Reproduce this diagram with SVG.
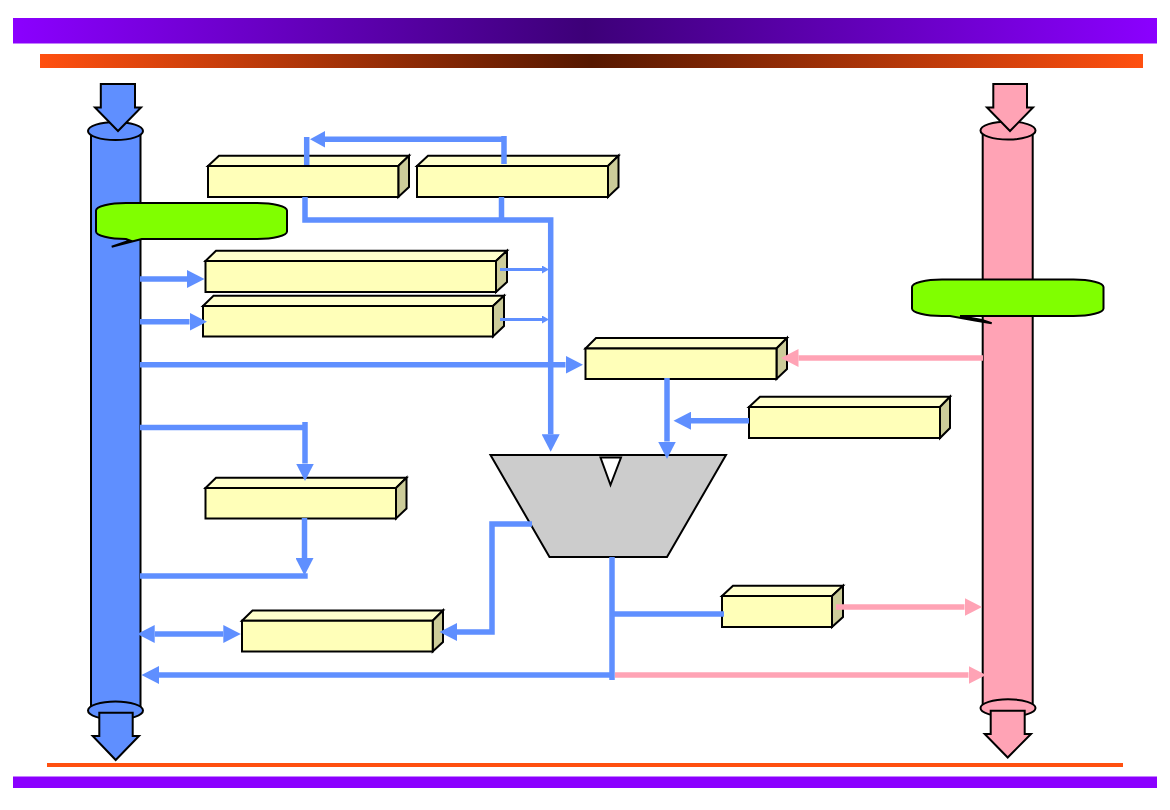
<svg xmlns="http://www.w3.org/2000/svg" width="1170" height="810" viewBox="0 0 1170 810">
<style>
.box path,.pipe path,.pipe ellipse,.blk{stroke:#000;stroke-width:2;stroke-linejoin:miter}
.f{fill:#ffffb9}.t{fill:#ffffcc}.s{fill:#cccc99}
.b{fill:#5f8fff}.p{fill:#ffa3b5}
.bl,.pl,.bt{fill:none;stroke-linejoin:miter}
.bl{stroke:#5f8fff;stroke-width:5.5}
.bt{stroke:#5f8fff;stroke-width:3}
.pl{stroke:#ffa3b5;stroke-width:5.5}
.ah{marker-end:url(#hb)}
.ap{marker-end:url(#hp)}
.call{fill:#80ff00;stroke:#000;stroke-width:2}
</style>
<defs>
<linearGradient id="gp"><stop offset="0" stop-color="#8b00ff"/><stop offset="0.5" stop-color="#3d0078"/><stop offset="1" stop-color="#8b00ff"/></linearGradient>
<linearGradient id="go"><stop offset="0" stop-color="#ff5010"/><stop offset="0.5" stop-color="#561800"/><stop offset="1" stop-color="#ff5010"/></linearGradient>
<marker id="hb" markerUnits="userSpaceOnUse" markerWidth="18" markerHeight="18" viewBox="0 0 18 18" refX="0" refY="9" orient="auto-start-reverse"><path d="M0 0L17.500 9L0 18Z" fill="#5f8fff"/></marker>
<marker id="hp" markerUnits="userSpaceOnUse" markerWidth="18" markerHeight="18" viewBox="0 0 18 18" refX="0" refY="9" orient="auto"><path d="M0 0L17.500 9L0 18Z" fill="#ffa3b5"/></marker>
<marker id="hs" markerUnits="userSpaceOnUse" markerWidth="7" markerHeight="8" viewBox="0 0 7 8" refX="0" refY="4" orient="auto"><path d="M0 0L7 4L0 8Z" fill="#5f8fff"/></marker>
</defs>
<g id="frame">
<rect x="13" y="18" width="1144" height="25.500" fill="url(#gp)"/>
<rect x="40" y="54" width="1103" height="14" fill="url(#go)"/>
<rect x="47" y="763" width="1076" height="4" fill="#ff5010"/>
<rect x="13" y="776.500" width="1144" height="11.500" fill="#8b00ff"/>
</g>
<g id="bus-left" class="pipe">
<path class="b" d="M91 131V708H140.500V131Z"/>
<ellipse class="b" cx="115.500" cy="710.500" rx="27.500" ry="9"/>
<ellipse class="b" cx="115.500" cy="131" rx="27.500" ry="9"/>
<path class="b" d="M100.800 84H135V107.500H141L118 131L95 107.500H100.800Z"/>
<path class="b" d="M99.300 712.700H132.700V736H139L115.700 760L92.700 736H99.300Z"/>
</g>
<g id="bus-right" class="pipe">
<path class="p" d="M982.700 131V706H1032.700V131Z"/>
<ellipse class="p" cx="1008" cy="708" rx="27.500" ry="8.700"/>
<ellipse class="p" cx="1008" cy="130.500" rx="27.500" ry="9"/>
<path class="p" d="M993.300 84H1027V107.500H1033L1010 131L987 107.500H993.300Z"/>
<path class="p" d="M990.700 710.700H1024.700V734H1031L1007.700 757.500L984.700 734H990.700Z"/>
</g>
<g id="mux">
<path class="blk" d="M490.500 455H726L667 557H549.500Z" fill="#cccccc"/>
<path class="blk" d="M600.500 457.500H621L610.500 485Z" fill="#ffffff"/>
</g>
<g id="box1" class="box"><path class="t" d="M208 166L219 155.700H409L398.300 166Z"/><path class="s" d="M398.300 166L409 155.700V187L398.300 197Z"/><path class="f" d="M208 166H398.300V197H208Z"/></g>
<g id="box2" class="box"><path class="t" d="M417 166L428 155.700H618.500L608 166Z"/><path class="s" d="M608 166L618.500 155.700V187L608 197Z"/><path class="f" d="M417 166H608V197H417Z"/></g>
<g id="box3" class="box"><path class="t" d="M205.500 261L216 250.700H507L496 261Z"/><path class="s" d="M496 261L507 250.700V282L496 292Z"/><path class="f" d="M205.500 261H496V292H205.500Z"/></g>
<g id="box4" class="box"><path class="t" d="M203 306L213.500 295.700H504L493 306Z"/><path class="s" d="M493 306L504 295.700V326L493 336.500Z"/><path class="f" d="M203 306H493V336.500H203Z"/></g>
<g id="box5" class="box"><path class="t" d="M585.500 348.500L596 338H787L776.500 348.500Z"/><path class="s" d="M776.500 348.500L787 338V369L776.500 379Z"/><path class="f" d="M585.500 348.500H776.500V379H585.500Z"/></g>
<g id="box6" class="box"><path class="t" d="M749 407L760 396.700H950L940 407Z"/><path class="s" d="M940 407L950 396.700V428L940 438Z"/><path class="f" d="M749 407H940V438H749Z"/></g>
<g id="box7" class="box"><path class="t" d="M205.500 488L216 477.700H406.500L396 488Z"/><path class="s" d="M396 488L406.500 477.700V508.500L396 518.500Z"/><path class="f" d="M205.500 488H396V518.500H205.500Z"/></g>
<g id="box8" class="box"><path class="t" d="M242 620.700L252.500 610.500H443L432.700 620.700Z"/><path class="s" d="M432.700 620.700L443 610.500V642L432.700 651.500Z"/><path class="f" d="M242 620.700H432.700V651.500H242Z"/></g>
<g id="box9" class="box"><path class="t" d="M722 596L733 585.700H843L832 596Z"/><path class="s" d="M832 596L843 585.700V617L832 627Z"/><path class="f" d="M722 596H832V627H722Z"/></g>
<g id="connectors">
<path class="bl" d="M504 139.300H325"/>
<path d="M310 139.300L325 131V147.600Z" fill="#5f8fff"/>
<path class="bl" d="M306.700 165V137"/>
<path class="bl" d="M504 164V136"/>
<path class="bl ah" d="M305 197V220H550.700V434.300"/>
<path class="bl" d="M501.500 197V220"/>
<path class="bt" d="M500 269.500H542" marker-end="url(#hs)"/>
<path class="bt" d="M500 319.500H542" marker-end="url(#hs)"/>
<path class="bl ah" d="M140 279H187"/>
<path class="bl ah" d="M140 321.700H189.500"/>
<path class="bl ah" d="M140 364.700H565.500"/>
<path class="pl ap" d="M983 358H798.500"/>
<path class="bl ah" d="M667 378V441.500"/>
<path class="bl ah" d="M749 420.700H691"/>
<path class="bl" d="M140 427.500H305"/>
<path class="bl ah" d="M305 422V463.500"/>
<path class="bl ah" d="M304.500 518V558"/>
<path class="bl" d="M140 576H307.700"/>
<path class="bl ah" d="M532 524H492V632H457"/>
<path d="M154.700 634H223.300" class="bl ah" marker-start="url(#hb)"/>
<path class="bl ah" d="M612 675H159"/>
<path class="bl" d="M612 557V680"/>
<path class="bl" d="M612 614H724"/>
<path class="pl ap" d="M615 675H968.500"/>
<path class="pl ap" d="M836 607H964.500"/>
</g>
<g id="callout-left"><path class="call" d="M126 203H257A30 7.500 0 0 1 287 210.500V231.500A30 7.500 0 0 1 257 239H141.700L111.700 246.700L130 240.500L126 239A30 7.500 0 0 1 96 231.500V210.500A30 7.500 0 0 1 126 203Z"/></g>
<g id="callout-right"><path class="call" d="M942 279.500H1073.500A30 7.500 0 0 1 1103.500 287V308.500A30 7.500 0 0 1 1073.500 316H960L982 320L991.700 323.300L975 320.500L950 316L942 316A30 7.500 0 0 1 912 308.500V287A30 7.500 0 0 1 942 279.500Z"/></g>
</svg>
